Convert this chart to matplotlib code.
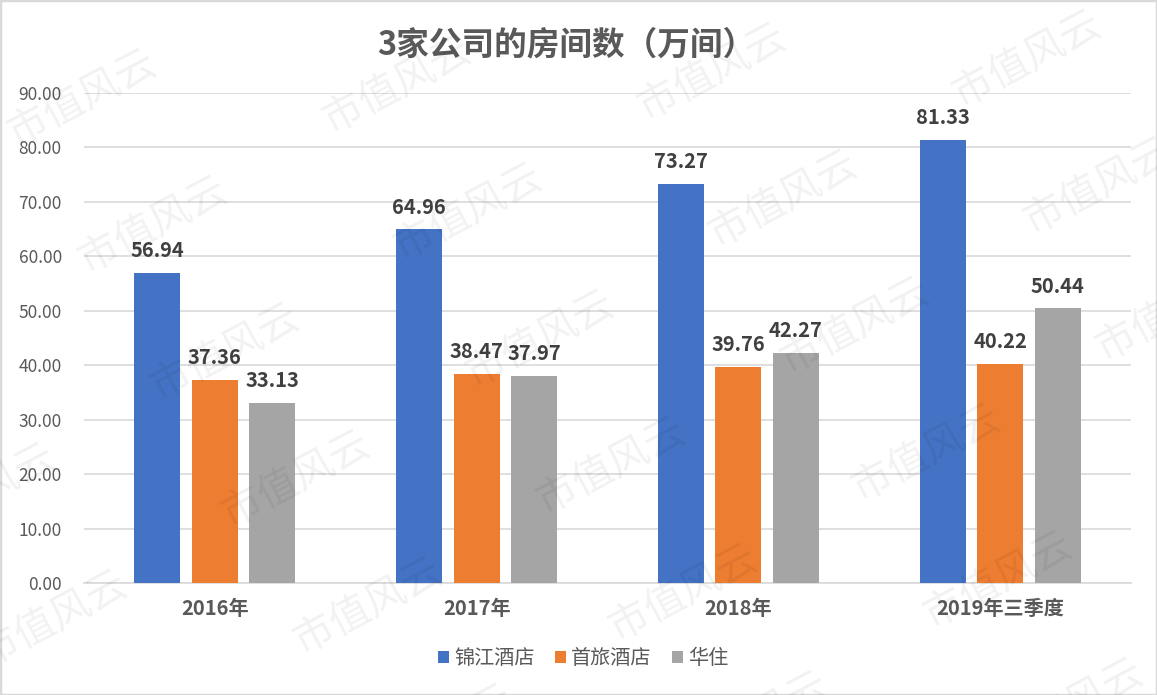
import matplotlib
matplotlib.use("Agg")
import matplotlib.pyplot as plt
import numpy as np
from matplotlib.patches import Rectangle

plt.rcParams['font.family'] = ['Noto Sans CJK SC', 'DejaVu Sans']

title = "3家公司的房间数（万间）"
categories = ["2016年", "2017年", "2018年", "2019年三季度"]
series_names = ["锦江酒店", "首旅酒店", "华住"]
jinjiang = [56.94, 64.96, 73.27, 81.33]
shoulv = [37.36, 38.47, 39.76, 40.22]
huazhu = [33.13, 37.97, 42.27, 50.44]
colors = ["#4472C4", "#ED7D31", "#A5A5A5"]
yticks = [0, 10, 20, 30, 40, 50, 60, 70, 80, 90]
watermark = "市值风云"

W, H = 1157, 695
fig = plt.figure(figsize=(W / 100, H / 100), dpi=100)
ax = fig.add_axes([84 / W, 1 - 583 / H, (1131 - 84) / W, (583 - 93) / H])

x = np.arange(len(categories))
width = 0.176
step = 0.22
for k, (vals, c) in enumerate(zip([jinjiang, shoulv, huazhu], colors)):
    pos = x + (k - 1) * step
    bars = ax.bar(pos, vals, width=width, color=c, label=series_names[k], zorder=3)
    for b, v in zip(bars, vals):
        ax.annotate(f"{v:.2f}", (b.get_x() + b.get_width() / 2, v),
                    xytext=(0, 8.5), textcoords="offset points",
                    ha="center", va="bottom", fontsize=14.5, fontweight="bold",
                    color="#404040")

ax.set_xlim(-0.5, len(categories) - 0.5)
ax.set_ylim(0, 90)
ax.set_yticks(yticks)
ax.set_yticklabels([f"{t:.2f}" for t in yticks])
ax.set_xticks(x)
ax.set_xticklabels(categories, fontsize=14.5, fontweight="bold", color="#595959")
ax.tick_params(axis="y", length=0, pad=16, labelsize=12.5, labelcolor="#595959")
ax.tick_params(axis="x", length=0, pad=11)
ax.grid(axis="y", color="#d9d9d9", linewidth=1.2, zorder=0)
for s in ["top", "right", "left"]:
    ax.spines[s].set_visible(False)
ax.spines["bottom"].set_color("#d9d9d9")
ax.spines["bottom"].set_linewidth(1.2)
ax.spines["bottom"].set_zorder(2)

fig.text(566 / W, 1 - 45 / H, title, ha="center", va="center", fontsize=23.5,
         fontweight="bold", color="#595959")

leg = fig.legend(loc="center", bbox_to_anchor=(583 / W, 1 - 659 / H), ncol=3,
                 frameon=False, fontsize=14.5, handlelength=0.55, handleheight=0.55,
                 handletextpad=0.25, columnspacing=1.0)
for t in leg.get_texts():
    t.set_color("#595959")

# watermark lattice
for j in range(-1, 6):
    for i in range(-1, 5):
        px = 82 + i * 315 + j * 71.5
        py = 98 - i * 13 + j * 127
        if -60 < px < W + 60 and -40 < py < H + 40:
            fig.text(px / W, 1 - py / H, watermark, rotation=28, ha="center",
                     va="center", fontsize=29, color="#000000", alpha=0.055,
                     zorder=10)

fig.patches.append(Rectangle((0, 0), 1, 1, transform=fig.transFigure,
                             fill=False, edgecolor="#d9d9d9", linewidth=2.5))

fig.savefig("out.png", dpi=100)
